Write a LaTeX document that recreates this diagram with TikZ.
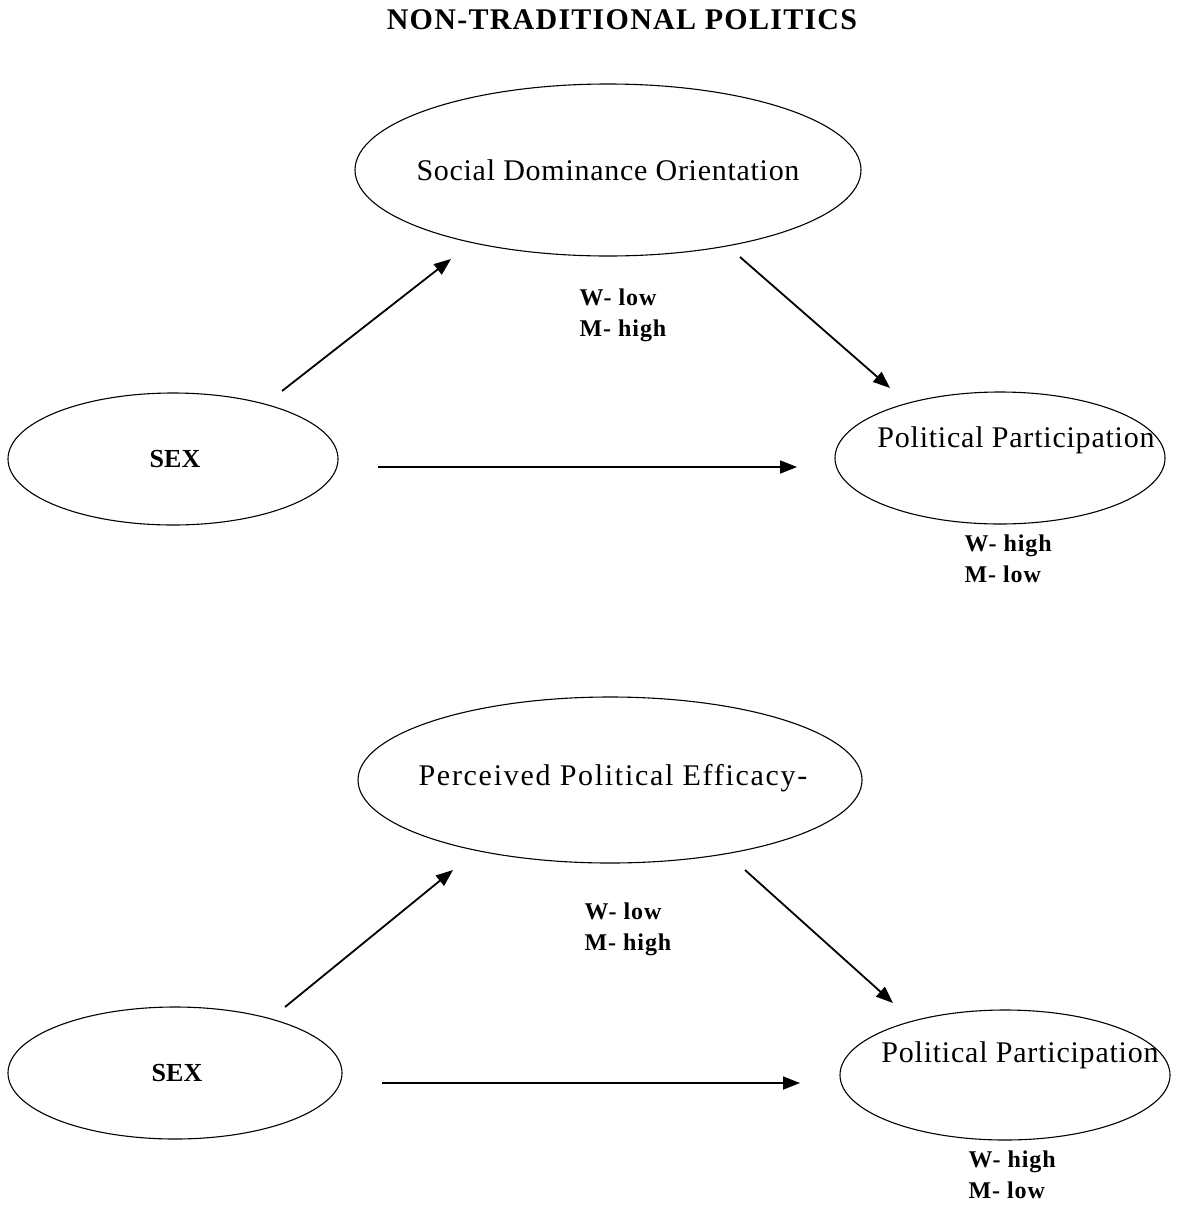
\documentclass[tikz,border=0pt]{standalone}
\usepackage{fontspec}
\setmainfont{Liberation Serif}
\usetikzlibrary{shapes.geometric,arrows.meta}
\begin{document}
\begin{tikzpicture}[x=1pt,y=-1pt,
  oval/.style={draw, ellipse, line width=1.1pt, inner sep=0pt},
  lab/.style={font=\fontsize{30}{32}\selectfont\addfontfeature{LetterSpace=#1}},
  lab/.default=2.5,
  val/.style={font=\fontsize{24}{31}\selectfont\bfseries\addfontfeature{LetterSpace=4}, align=left, anchor=west},
  conn/.style={line width=1.8pt, -{Triangle[length=17pt,width=13pt]}}]
\useasboundingbox (0,0) rectangle (1177,1205);
\node[font=\fontsize{30}{30}\selectfont\bfseries\addfontfeature{LetterSpace=4.2}] (title) at (622,20) {NON-TRADITIONAL POLITICS};
% top diagram
\node[oval, minimum width=506pt, minimum height=172pt] (sdo) at (608,170) {};
\node[lab=2.4] (sdot) at (608,170) {Social Dominance Orientation};
\node[oval, minimum width=330pt, minimum height=132pt] (sex1) at (173,459) {};
\node[font=\fontsize{26}{26}\selectfont\bfseries] (sex1t) at (175,459) {SEX};
\node[oval, minimum width=330pt, minimum height=132pt] (pp1) at (1000,458) {};
\node[lab=2.6] (pp1t) at (1016,440) {Political Participation};
\node[val] (v1) at (576,315) {W- low\\M- high};
\node[val] (v2) at (961,559) {W- high\\M- low};
\coordinate (a1s) at (282,391); \coordinate (a1e) at (451,259);
\coordinate (a2s) at (740,257); \coordinate (a2e) at (890,388);
\coordinate (a3s) at (378,467); \coordinate (a3e) at (797,467);
\draw[conn] (a1s) -- (a1e);
\draw[conn] (a2s) -- (a2e);
\draw[conn] (a3s) -- (a3e);
% bottom diagram
\node[oval, minimum width=504pt, minimum height=166pt] (ppe) at (610,780) {};
\node[lab=5.7] (ppet) at (613,778) {Perceived Political Efficacy-};
\node[oval, minimum width=334pt, minimum height=132pt] (sex2) at (175,1073) {};
\node[font=\fontsize{26}{26}\selectfont\bfseries] (sex2t) at (177,1073) {SEX};
\node[oval, minimum width=330pt, minimum height=130pt] (pp2) at (1005,1075) {};
\node[lab=2.6] (pp2t) at (1020,1055) {Political Participation};
\node[val] (v3) at (581,929) {W- low\\M- high};
\node[val] (v4) at (965,1175) {W- high\\M- low};
\coordinate (b1s) at (285,1007); \coordinate (b1e) at (453,870);
\coordinate (b2s) at (745,870); \coordinate (b2e) at (893,1003);
\coordinate (b3s) at (382,1083); \coordinate (b3e) at (800,1083);
\draw[conn] (b1s) -- (b1e);
\draw[conn] (b2s) -- (b2e);
\draw[conn] (b3s) -- (b3e);
\end{tikzpicture}
\end{document}
